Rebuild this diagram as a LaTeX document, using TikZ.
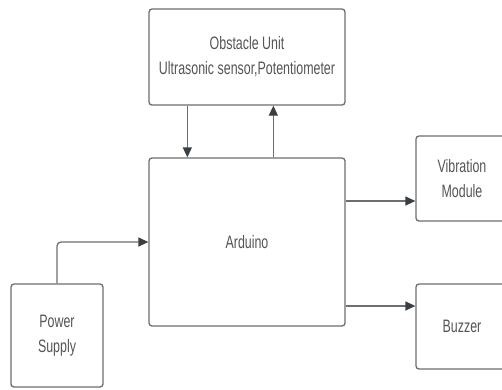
\documentclass[tikz,border=0pt]{standalone}
\usepackage{fontspec}
\newfontfamily\condfont[FakeStretch=0.69]{Liberation Sans}
\usetikzlibrary{arrows.meta}
\definecolor{txt}{HTML}{555555}
\definecolor{edge}{HTML}{6E6E6E}
\definecolor{tip}{HTML}{3A3F44}
\tikzset{
  blk/.style={draw=edge, line width=1.3pt, rounded corners=3pt, fill=white,
    text=txt, font=\condfont\fontsize{18}{25}\selectfont, align=center,
    inner sep=0pt, anchor=center},
  arr/.style={draw=edge, line width=1.3pt,
    -{Triangle[length=10pt,width=9pt,color=tip]}},
}
\begin{document}
\begin{tikzpicture}[x=1pt,y=-1pt]
\clip (0,0) rectangle (502,389);
\fill[white] (0,0) rectangle (502,389);
\node[blk, minimum width=196pt, minimum height=96pt] (obs) at (247,57)
  {Obstacle Unit\\Ultrasonic sensor,Potentiometer};
\node[blk, minimum width=196pt, minimum height=168pt] (ard) at (247,242) {Arduino};
\node[blk, minimum width=92pt, minimum height=85pt] (vib) at (462,178.5) {Vibration\\Module};
\node[blk, minimum width=92pt, minimum height=85pt] (buz) at (462,326.5) {Buzzer};
\node[blk, minimum width=92pt, minimum height=103pt] (pwr) at (57,335.5) {Power\\Supply};
\draw[arr] ([xshift=39pt]obs.south west) -- ([xshift=39pt]ard.north west);
\draw[arr] ([xshift=125pt]ard.north west) -- ([xshift=125pt]obs.south west);
\draw[arr] (ard.east |- 0,201) -- (vib.west |- 0,201);
\draw[arr] (ard.east |- 0,306) -- (buz.west |- 0,306);
\draw[arr, rounded corners=4pt] (pwr.north) |- (ard.west);
\end{tikzpicture}
\end{document}
